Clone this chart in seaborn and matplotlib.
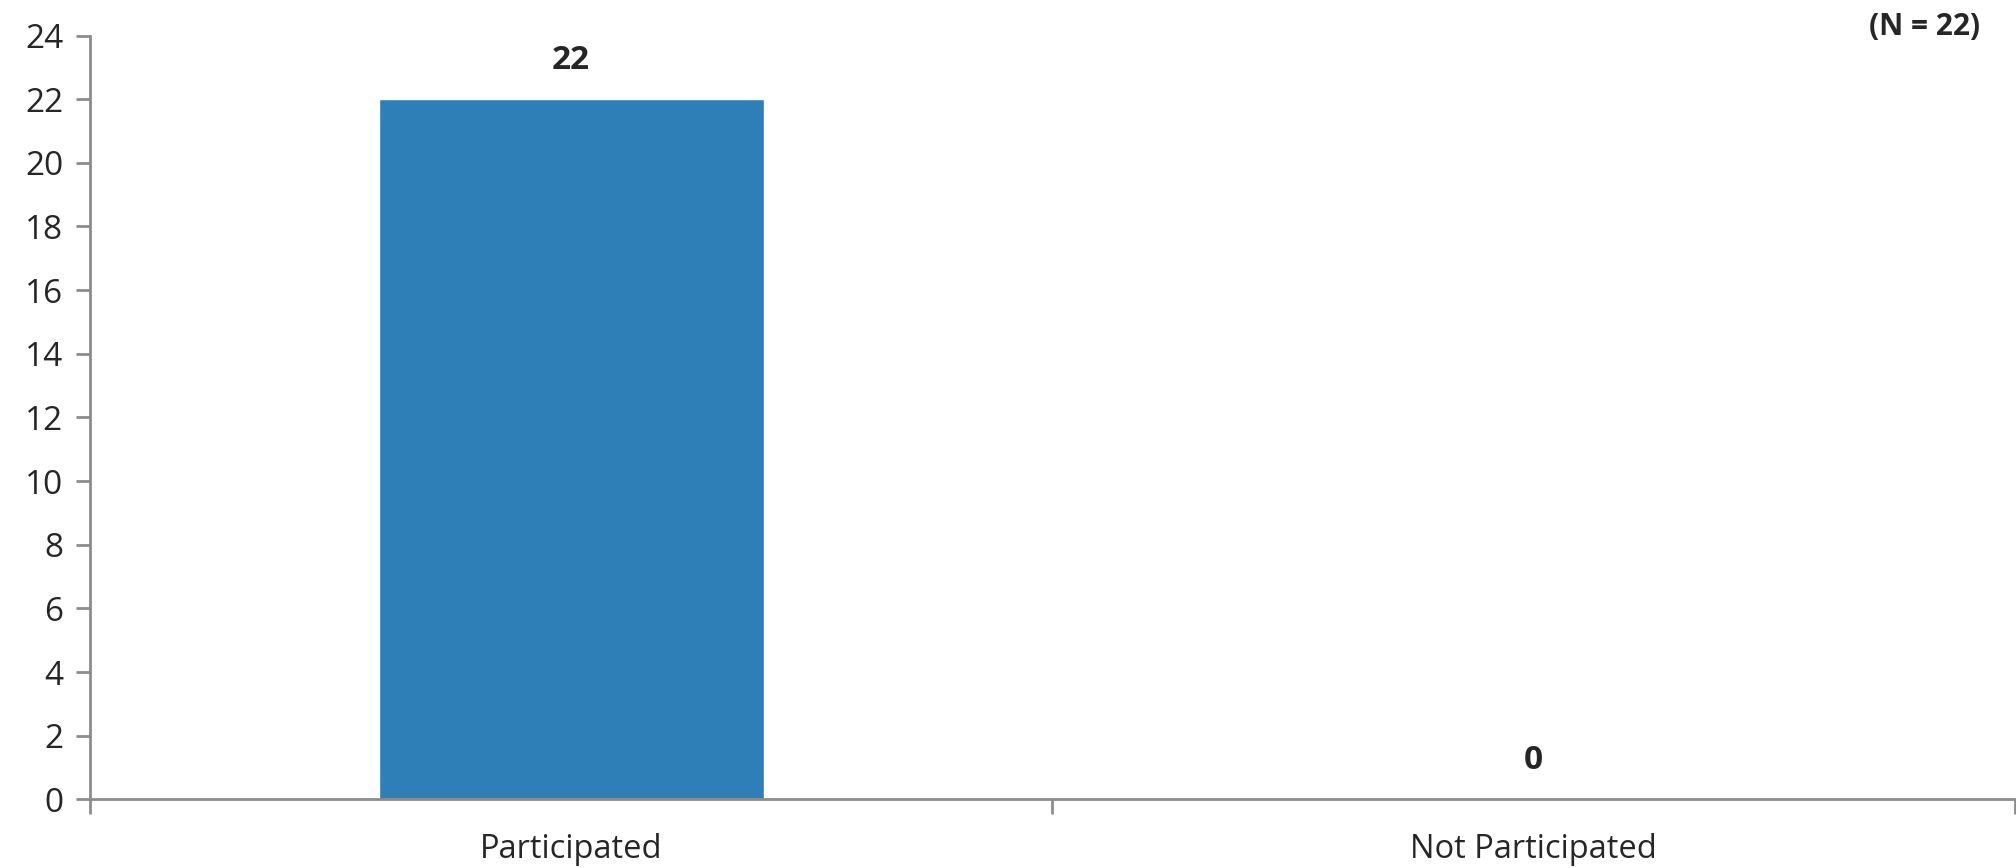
import matplotlib
matplotlib.use("Agg")
import matplotlib.pyplot as plt
import seaborn as sns
import pandas as pd

categories = ["Participated", "Not Participated"]
values = [22, 0]
yticks = [0, 2, 4, 6, 8, 10, 12, 14, 16, 18, 20, 22, 24]
note = "(N = 22)"

sns.set_style("white")
plt.rcParams['font.family'] = ['Open Sans', 'DejaVu Sans']

df = pd.DataFrame({"cat": categories, "val": values})

fig = plt.figure(figsize=(20.16, 8.68), dpi=100)
ax = fig.add_axes([0.0446, 0.0791, 0.9549, 0.8800])

sns.barplot(data=df, x="cat", y="val", color="#2E7EB8", width=0.4,
            saturation=1, ax=ax)

ax.set_xlim(-0.5, 1.5)
ax.set_ylim(0, 24)
ax.set_yticks(yticks)
ax.set_yticklabels([str(t) for t in yticks])
ax.set_xticks([-0.5, 0.5, 1.5], minor=False)
ax.set_xticklabels(["", "", ""])
ax.set_xticks([0, 1], minor=True)
ax.set_xticklabels(categories, minor=True)
ax.set_xlabel("")
ax.set_ylabel("")

for s in ["top", "right"]:
    ax.spines[s].set_visible(False)
for s in ["left", "bottom"]:
    ax.spines[s].set_color("#8C8C8C")
    ax.spines[s].set_linewidth(2)

ax.tick_params(axis="y", which="major", direction="out", length=10, width=2,
               color="#8C8C8C", labelsize=24, pad=9, left=True)
ax.tick_params(axis="x", which="major", direction="out", length=11, width=2,
               color="#8C8C8C", bottom=True)
ax.tick_params(axis="x", which="minor", length=0, labelsize=23.5, pad=24)

for i, v in enumerate(values):
    ax.annotate(str(v), xy=(i, v), xytext=(0, 22), textcoords="offset pixels",
                ha="center", va="bottom", fontsize=24, fontweight="bold")

fig.text(0.982, 0.969, note, ha="right", va="center", fontsize=21.5,
         fontweight="bold")

fig.savefig("out.png", dpi=100)
